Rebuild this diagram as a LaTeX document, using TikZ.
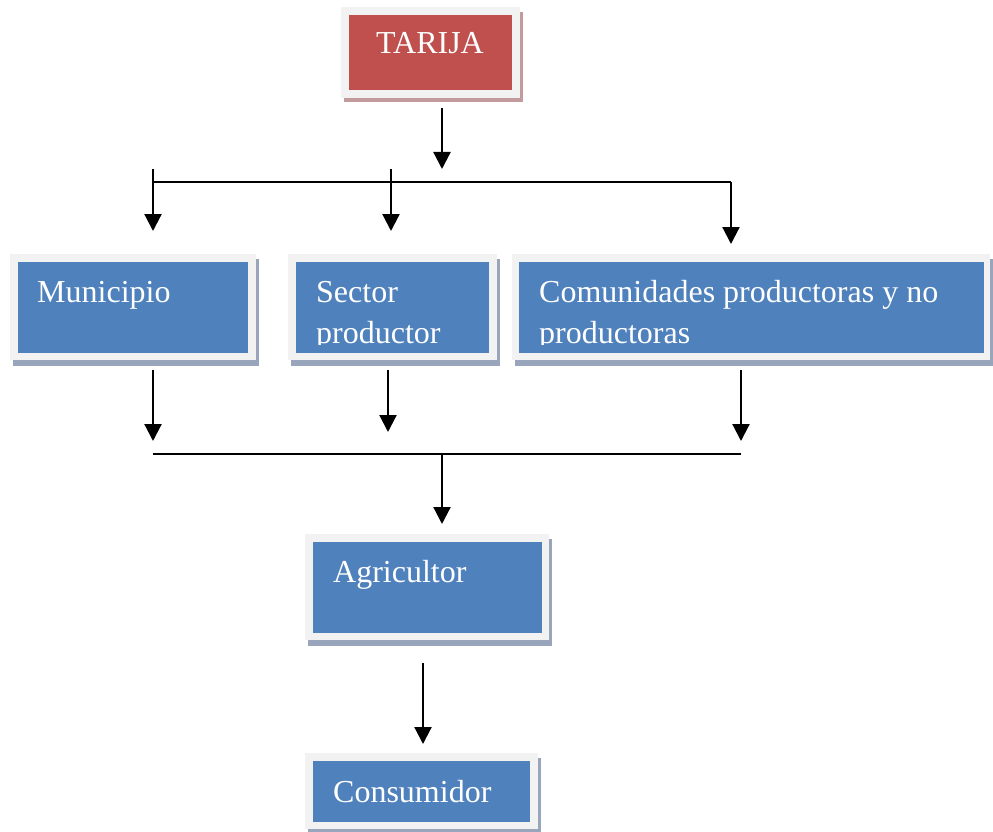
\documentclass[tikz,border=0pt]{standalone}
\usepackage{fontspec}
\setmainfont{Liberation Serif}
\usetikzlibrary{arrows.meta}
\definecolor{frame}{HTML}{F2F2F2}
\definecolor{bluebox}{HTML}{4F81BD}
\definecolor{redbox}{HTML}{C0504D}
\definecolor{blueshadow}{HTML}{98A5BA}
\definecolor{redshadow}{HTML}{C29C9C}
\tikzset{
  outerframe/.style={fill=frame, draw=none},
  bshadow/.style={fill=blueshadow, draw=none},
  rshadow/.style={fill=redshadow, draw=none},
  binner/.style={fill=bluebox, draw=none},
  rinner/.style={fill=redbox, draw=none},
  boxtext/.style={text=white, inner sep=0pt, anchor=base west, font=\fontsize{32}{41}\selectfont},
  conn/.style={line width=2.2pt, -{Triangle[width=17pt,length=17pt]}},
  bar/.style={line width=2pt}
}
\begin{document}
\begin{tikzpicture}[x=1pt,y=-1pt]
\useasboundingbox (0,0) rectangle (993,832);
% ---- boxes: shadow, frame, inner ----
% TARIJA
\fill[rshadow] (344,12) rectangle (523,102);
\node[outerframe, minimum width=179pt, minimum height=91pt, anchor=north west, inner sep=0pt] (tarija) at (341,7) {};
\fill[rinner] (349,15) rectangle (512,90);
\node[boxtext] (tarijat) at (376,54) {TARIJA};
% Municipio
\fill[bshadow] (13,259) rectangle (259,366);
\node[outerframe, minimum width=246pt, minimum height=106pt, anchor=north west, inner sep=0pt] (muni) at (10,254) {};
\fill[binner] (18,262) rectangle (248,353);
\node[boxtext] (munit) at (37,302) {Municipio};
% Sector productor
\fill[bshadow] (291,259) rectangle (500,366);
\node[outerframe, minimum width=209pt, minimum height=106pt, anchor=north west, inner sep=0pt] (sector) at (288,254) {};
\fill[binner] (296,262) rectangle (489,353);
\begin{scope}
\clip (296,262) rectangle (489,344);
\node[boxtext] (sectort) at (316,302) {Sector};
\node[boxtext] (sectort2) at (316,343) {productor};
\end{scope}
% Comunidades
\fill[bshadow] (515,259) rectangle (993,366);
\node[outerframe, minimum width=478pt, minimum height=106pt, anchor=north west, inner sep=0pt] (comu) at (512,254) {};
\fill[binner] (519,262) rectangle (984,353);
\begin{scope}
\clip (519,262) rectangle (984,344);
\node[boxtext] (comut) at (539,302) {Comunidades productoras y no};
\node[boxtext] (comut2) at (539,343) {productoras};
\end{scope}
% Agricultor
\fill[bshadow] (308,539) rectangle (552,646);
\node[outerframe, minimum width=244pt, minimum height=106pt, anchor=north west, inner sep=0pt] (agri) at (305,534) {};
\fill[binner] (313,542) rectangle (542,633);
\node[boxtext] (agrit) at (333,582) {Agricultor};
% Consumidor
\fill[bshadow] (308,758) rectangle (541,840);
\node[outerframe, minimum width=233pt, minimum height=76pt, anchor=north west, inner sep=0pt] (cons) at (305,753) {};
\fill[binner] (313,761) rectangle (530,822);
\node[boxtext] (const) at (333,802) {Consumidor};
% ---- connector coordinates ----
\coordinate (t1) at (442,108);
\coordinate (t2) at (442,169);
\coordinate (hl) at (153,182);
\coordinate (hr) at (731,182);
\coordinate (a1s) at (153,169);
\coordinate (a1e) at (153,231);
\coordinate (a2s) at (391,169);
\coordinate (a2e) at (391,231);
\coordinate (a3e) at (731,244);
\coordinate (b1s) at (153,370);
\coordinate (b1e) at (153,441);
\coordinate (b2s) at (388,370);
\coordinate (b2e) at (388,432);
\coordinate (b3s) at (741,370);
\coordinate (b3e) at (741,441);
\coordinate (ll) at (153,454);
\coordinate (lr) at (741,454);
\coordinate (ls) at (442,454);
\coordinate (le) at (442,524);
\coordinate (c1) at (423,663);
\coordinate (c2) at (423,744);
% ---- connectors ----
\draw[conn] (t1) -- (t2);
\draw[bar] (hl) -- (hr);
\draw[conn] (a1s) -- (a1e);
\draw[conn] (a2s) -- (a2e);
\draw[conn] (hr) -- (a3e);
\draw[conn] (b1s) -- (b1e);
\draw[conn] (b2s) -- (b2e);
\draw[conn] (b3s) -- (b3e);
\draw[bar] (ll) -- (lr);
\draw[conn] (ls) -- (le);
\draw[conn] (c1) -- (c2);
\end{tikzpicture}
\end{document}
